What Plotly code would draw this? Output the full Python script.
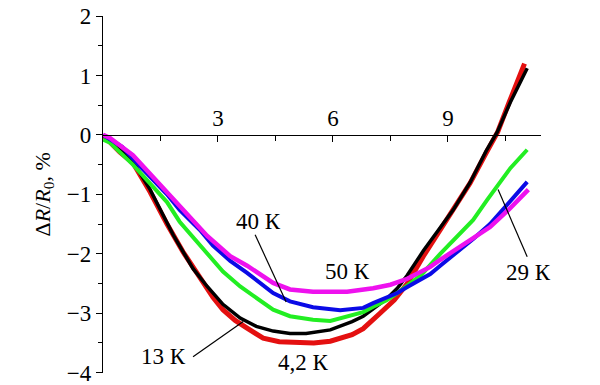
import plotly.graph_objects as go

# Field B (T) and ΔR/R0 (%) for each temperature
x_42 = [0, 0.44, 0.78, 1.23, 1.67, 2.09, 2.45, 2.87, 3.13, 3.45, 3.76, 4.18, 4.6, 5.07, 5.5, 5.93, 6.19, 6.5, 6.79, 7.05, 7.23, 7.6, 7.94, 8.36, 8.8, 9.24, 9.58, 10.0, 10.3, 10.6, 11.0]
y_42 = [0, -0.29, -0.47, -0.96, -1.5, -1.97, -2.32, -2.73, -2.94, -3.12, -3.25, -3.42, -3.48, -3.5, -3.5, -3.47, -3.42, -3.36, -3.26, -3.12, -3.0, -2.78, -2.5, -2.04, -1.6, -1.18, -0.81, -0.3, 0.05, 0.55, 1.2]

x_13 = [0, 0.44, 0.78, 1.23, 1.83, 2.35, 2.72, 3.13, 3.58, 4.0, 4.44, 4.88, 5.3, 5.93, 6.19, 6.5, 6.79, 7.05, 7.4, 7.68, 7.94, 8.36, 8.8, 9.14, 9.58, 10.0, 10.29, 10.63, 11.07]
y_13 = [0, -0.25, -0.45, -0.92, -1.68, -2.25, -2.55, -2.85, -3.08, -3.22, -3.3, -3.34, -3.34, -3.28, -3.22, -3.14, -3.05, -2.93, -2.76, -2.58, -2.36, -1.95, -1.55, -1.26, -0.8, -0.27, 0.05, 0.55, 1.12]

x_29 = [0, 0.18, 0.78, 1.67, 2.0, 2.53, 2.87, 3.13, 3.58, 3.76, 4.44, 4.88, 5.48, 5.93, 6.19, 6.79, 7.05, 7.4, 7.68, 7.94, 8.3, 8.8, 9.2, 9.66, 10.03, 10.63, 11.07]
y_29 = [-0.08, -0.13, -0.5, -1.13, -1.46, -1.85, -2.12, -2.3, -2.55, -2.63, -2.94, -3.05, -3.11, -3.13, -3.08, -2.98, -2.89, -2.78, -2.66, -2.54, -2.36, -2.0, -1.74, -1.43, -1.09, -0.56, -0.25]

x_40 = [0, 0.5, 1.0, 1.67, 2.0, 2.53, 2.87, 3.32, 3.76, 4.44, 4.88, 5.48, 6.19, 6.79, 7.05, 7.4, 7.68, 7.94, 8.54, 8.8, 9.4, 9.66, 10.1, 10.44, 11.07]
y_40 = [0, -0.2, -0.55, -1.0, -1.26, -1.6, -1.86, -2.12, -2.32, -2.66, -2.8, -2.9, -2.95, -2.91, -2.83, -2.74, -2.66, -2.56, -2.34, -2.2, -1.9, -1.75, -1.5, -1.25, -0.79]

x_50 = [0, 0.18, 0.78, 1.67, 2.01, 2.53, 2.72, 3.32, 3.58, 3.76, 4.44, 4.88, 5.48, 6.37, 7.05, 7.5, 7.94, 8.54, 8.8, 9.66, 10.1, 10.6, 11.1]
y_50 = [0, -0.05, -0.34, -0.96, -1.19, -1.56, -1.7, -2.04, -2.13, -2.2, -2.49, -2.6, -2.64, -2.64, -2.58, -2.52, -2.42, -2.22, -2.1, -1.74, -1.55, -1.25, -0.92]

x_ticks = [3, 6, 9]
x_minor = [1.5, 4.5, 7.5, 10.5]
y_ticks = [-4, -3, -2, -1, 0, 1, 2]

# labels: text, x, y
labels = [
    ("40 К", 4.05, -1.46),
    ("50 К", 6.37, -2.3),
    ("4,2 К", 5.22, -3.82),
    ("13 К", 1.57, -3.73),
    ("29 К", 11.1, -2.32),
]
# leader lines: x0, y0, x1, y1
leaders = [
    (3.97, -1.68, 4.78, -2.81),
    (2.35, -3.73, 3.66, -3.14),
    (11.07, -2.05, 10.31, -0.92),
]

FONT = "Liberation Serif, DejaVu Serif, Times New Roman, serif"

series = [
    (x_42, y_42, "#e41010", 5, "4,2 К"),
    (x_13, y_13, "#000000", 3.5, "13 К"),
    (x_29, y_29, "#22ee22", 4, "29 К"),
    (x_40, y_40, "#0a0ae6", 4, "40 К"),
    (x_50, y_50, "#ee11ee", 4.5, "50 К"),
]

fig = go.Figure()
for xs, ys, c, w, name in series:
    fig.add_trace(go.Scatter(x=xs, y=ys, mode="lines", name=name,
                             line=dict(color=c, width=w),
                             showlegend=False))

for t, x, y in labels:
    fig.add_annotation(x=x, y=y, xref="x", yref="y", text=t, showarrow=False,
                       font=dict(family=FONT, size=23, color="black"))
for x0, y0, x1, y1 in leaders:
    fig.add_shape(type="line", x0=x0, y0=y0, x1=x1, y1=y1, xref="x", yref="y",
                  line=dict(color="black", width=1.2))

fig.add_annotation(x=12.06, y=0.37, xref="x", yref="y", text="<i>B</i>, Тл",
                   showarrow=False, font=dict(family=FONT, size=23, color="black"))
fig.add_annotation(x=-0.1735, y=0.5, xref="paper", yref="paper",
                   text="Δ<i>R</i>/<i>R</i><sub>0</sub>, %", textangle=-90,
                   showarrow=False, font=dict(family=FONT, size=22, color="black"))

fig.update_layout(
    width=600, height=385,
    margin=dict(l=103, r=59, t=16, b=12),
    plot_bgcolor="white", paper_bgcolor="white",
    font=dict(family=FONT, color="black"),
    xaxis=dict(range=[0, 11.43], anchor="free", position=4/6, side="top",
               automargin=False,
               showline=True, linecolor="black", linewidth=1.3,
               ticks="inside", ticklen=6, tickwidth=1.3, tickcolor="black",
               tickvals=x_ticks, ticktext=[str(v) for v in x_ticks],
               tickfont=dict(family=FONT, size=23),
               minor=dict(tickvals=x_minor, ticks="inside", ticklen=5, tickwidth=1.2, tickcolor="black"),
               showgrid=False, zeroline=False),
    yaxis=dict(range=[-4.005, 2.0], automargin=False, ticklabeloverflow="allow",
               showline=True, linecolor="black", linewidth=1.3,
               ticks="outside", ticklen=6, tickwidth=1.3, tickcolor="black",
               tickvals=y_ticks, tickfont=dict(family=FONT, size=23),
               minor=dict(dtick=0.5, ticks="outside", ticklen=4, tickwidth=1.2, tickcolor="black"),
               showgrid=False, zeroline=False),
)

fig.write_html("out.html")
